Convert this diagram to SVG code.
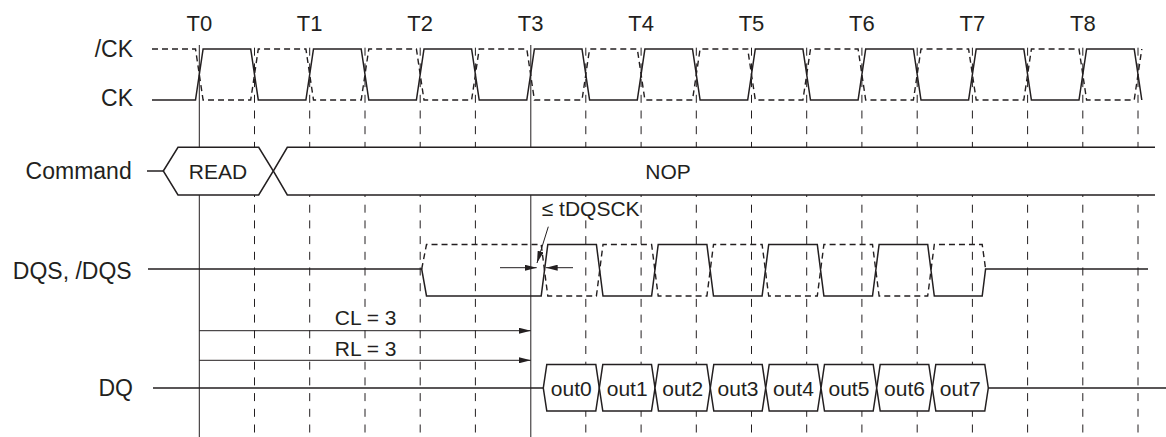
<svg xmlns="http://www.w3.org/2000/svg" width="1166" height="437" viewBox="0 0 1166 437">
<style>
text{font-family:"Liberation Sans",Arial,sans-serif;fill:#231f20}
.lbl{font-size:23px;text-anchor:end}
.tl{font-size:22px;text-anchor:middle}
.in{font-size:21px;text-anchor:middle}
.grid{stroke:#231f20;stroke-width:1;stroke-dasharray:8 7.7;fill:none}
.ref{stroke:#231f20;stroke-width:1;fill:none}
.wave{stroke:#231f20;stroke-width:1.5;fill:none;stroke-linejoin:miter}
.dwave{stroke:#231f20;stroke-width:1.4;fill:none;stroke-dasharray:6 4}
.bus{stroke:#231f20;stroke-width:1.5;fill:#fff}
.arr{stroke:#231f20;stroke-width:1;fill:none}
.bg{fill:#fff}
</style>
<defs>
<marker id="ah" markerUnits="userSpaceOnUse" markerWidth="12" markerHeight="6" refX="12" refY="3" orient="auto">
<path d="M0,0 L12,3 L0,6 Z" fill="#231f20"/>
</marker>
</defs>
<rect width="1166" height="437" fill="#fff"/>
<g id="grid">
<path class="grid" d="M254.5,47.7V437M309.7,47.7V437M365,47.7V437M420.2,47.7V437M475.4,47.7V437M585.8,47.7V437M641.1,47.7V437M696.3,47.7V437M751.5,47.7V437M806.7,47.7V437M861.9,47.7V437M917.2,47.7V437M972.4,47.7V437M1027.6,47.7V437M1082.8,47.7V437M1138,47.7V437"/>
<path class="ref" d="M199.3,45V437M530.8,45V437"/>
</g>
<g id="time-labels">
<text class="tl" x="199.3" y="30.7">T0</text>
<text class="tl" x="309.7" y="30.7">T1</text>
<text class="tl" x="420.2" y="30.7">T2</text>
<text class="tl" x="530.6" y="30.7">T3</text>
<text class="tl" x="641.1" y="30.7">T4</text>
<text class="tl" x="751.5" y="30.7">T5</text>
<text class="tl" x="861.9" y="30.7">T6</text>
<text class="tl" x="972.4" y="30.7">T7</text>
<text class="tl" x="1082.8" y="30.7">T8</text>
</g>
<g id="clock">
<text class="lbl" x="133" y="56.7">/CK</text>
<text class="lbl" x="133" y="106">CK</text>
<path class="dwave" d="M152,49 L195.5,49 L203.1,100 L250.7,100 L258.3,49 L305.9,49 L313.5,100 L361.2,100 L368.8,49 L416.4,49 L424,100 L471.6,100 L479.2,49 L526.8,49 L534.4,100 L582,100 L589.6,49 L637.3,49 L644.9,100 L692.5,100 L700.1,49 L747.7,49 L755.3,100 L802.9,100 L810.5,49 L858.1,49 L865.7,100 L913.4,100 L921,49 L968.6,49 L976.2,100 L1023.8,100 L1031.4,49 L1079,49 L1086.6,100 L1134.2,100 L1141.8,49"/>
<path class="wave" d="M152,100 L195.5,100 L203.1,49 L250.7,49 L258.3,100 L305.9,100 L313.5,49 L361.2,49 L368.8,100 L416.4,100 L424,49 L471.6,49 L479.2,100 L526.8,100 L534.4,49 L582,49 L589.6,100 L637.3,100 L644.9,49 L692.5,49 L700.1,100 L747.7,100 L755.3,49 L802.9,49 L810.5,100 L858.1,100 L865.7,49 L913.4,49 L921,100 L968.6,100 L976.2,49 L1023.8,49 L1031.4,100 L1079,100 L1086.6,49 L1134.2,49 L1141.8,100"/>
</g>
<g id="command">
<text class="lbl" x="131.7" y="179.3">Command</text>
<path class="wave" d="M147,171 H163.3"/>
<path class="bus" d="M163.3,171 L178,147.3 L258.7,147.3 L273.3,171 L258.7,195 L178,195 Z"/>
<path class="bus" d="M1155,147.3 L287.3,147.3 L273.3,171 L287.3,195 L1155,195"/>
<text class="in" x="218" y="179.3">READ</text>
<text class="in" x="668" y="179.3">NOP</text>
</g>
<g id="dqs">
<text class="lbl" x="131.7" y="279.3">DQS, /DQS</text>
<path class="dwave" d="M421.7,269 L426.5,244.5 L541.2,244.5 L547.8,296 L596.4,296 L603,244.5 L651.6,244.5 L658.2,296 L706.9,296 L713.5,244.5 L762.1,244.5 L768.7,296 L817.3,296 L823.9,244.5 L872.5,244.5 L879.1,296 L927.7,296 L934.3,244.5 L982.2,244.5 L985.6,269"/>
<path class="wave" d="M148,269 L421.7,269 L426.5,296 L541.2,296 L547.8,244.5 L596.4,244.5 L603,296 L651.6,296 L658.2,244.5 L706.9,244.5 L713.5,296 L762.1,296 L768.7,244.5 L817.3,244.5 L823.9,296 L872.5,296 L879.1,244.5 L927.7,244.5 L934.3,296 L982.2,296 L985.6,269 L1148,269"/>
</g>
<g id="dq">
<text class="lbl" x="133" y="395.5">DQ</text>
<path class="wave" d="M153,388 H543.3 M988.3,388 H1166"/>
<path class="bus" d="M543.3,388 L546.8,364.5 L595.8,364.5 L599.3,388 L595.8,411 L546.8,411 Z"/>
<path class="bus" d="M599.3,388 L602.8,364.5 L651.5,364.5 L655,388 L651.5,411 L602.8,411 Z"/>
<path class="bus" d="M655,388 L658.5,364.5 L706.8,364.5 L710.3,388 L706.8,411 L658.5,411 Z"/>
<path class="bus" d="M710.3,388 L713.8,364.5 L762.2,364.5 L765.7,388 L762.2,411 L713.8,411 Z"/>
<path class="bus" d="M765.7,388 L769.2,364.5 L817.5,364.5 L821,388 L817.5,411 L769.2,411 Z"/>
<path class="bus" d="M821,388 L824.5,364.5 L873.2,364.5 L876.7,388 L873.2,411 L824.5,411 Z"/>
<path class="bus" d="M876.7,388 L880.2,364.5 L928.8,364.5 L932.3,388 L928.8,411 L880.2,411 Z"/>
<path class="bus" d="M932.3,388 L935.8,364.5 L984.8,364.5 L988.3,388 L984.8,411 L935.8,411 Z"/>
<text class="in" x="571.3" y="396">out0</text>
<text class="in" x="627.2" y="396">out1</text>
<text class="in" x="682.7" y="396">out2</text>
<text class="in" x="738" y="396">out3</text>
<text class="in" x="793.4" y="396">out4</text>
<text class="in" x="848.9" y="396">out5</text>
<text class="in" x="904.5" y="396">out6</text>
<text class="in" x="960.3" y="396">out7</text>
</g>
<g id="connectors">
<path class="arr" d="M199.3,330.7 H530.8" marker-end="url(#ah)"/>
<path class="arr" d="M199.3,360.3 H530.8" marker-end="url(#ah)"/>
<path class="arr" d="M500,267.7 H536.7" marker-end="url(#ah)"/>
<path class="arr" d="M573,267.7 H545.7" marker-end="url(#ah)"/>
<path class="arr" d="M548.3,226.7 L537,263" marker-end="url(#ah)"/>
</g>
<g id="annotations">
<rect class="bg" x="333" y="308" width="66" height="20"/>
<rect class="bg" x="333" y="339" width="66" height="19"/>
<rect class="bg" x="540" y="199" width="99" height="20"/>
<text class="in" x="365.7" y="325">CL = 3</text>
<text class="in" x="365.7" y="356">RL = 3</text>
<text x="541.7" y="215.5" style="font-size:21px">≤ tDQSCK</text>
</g>
</svg>
